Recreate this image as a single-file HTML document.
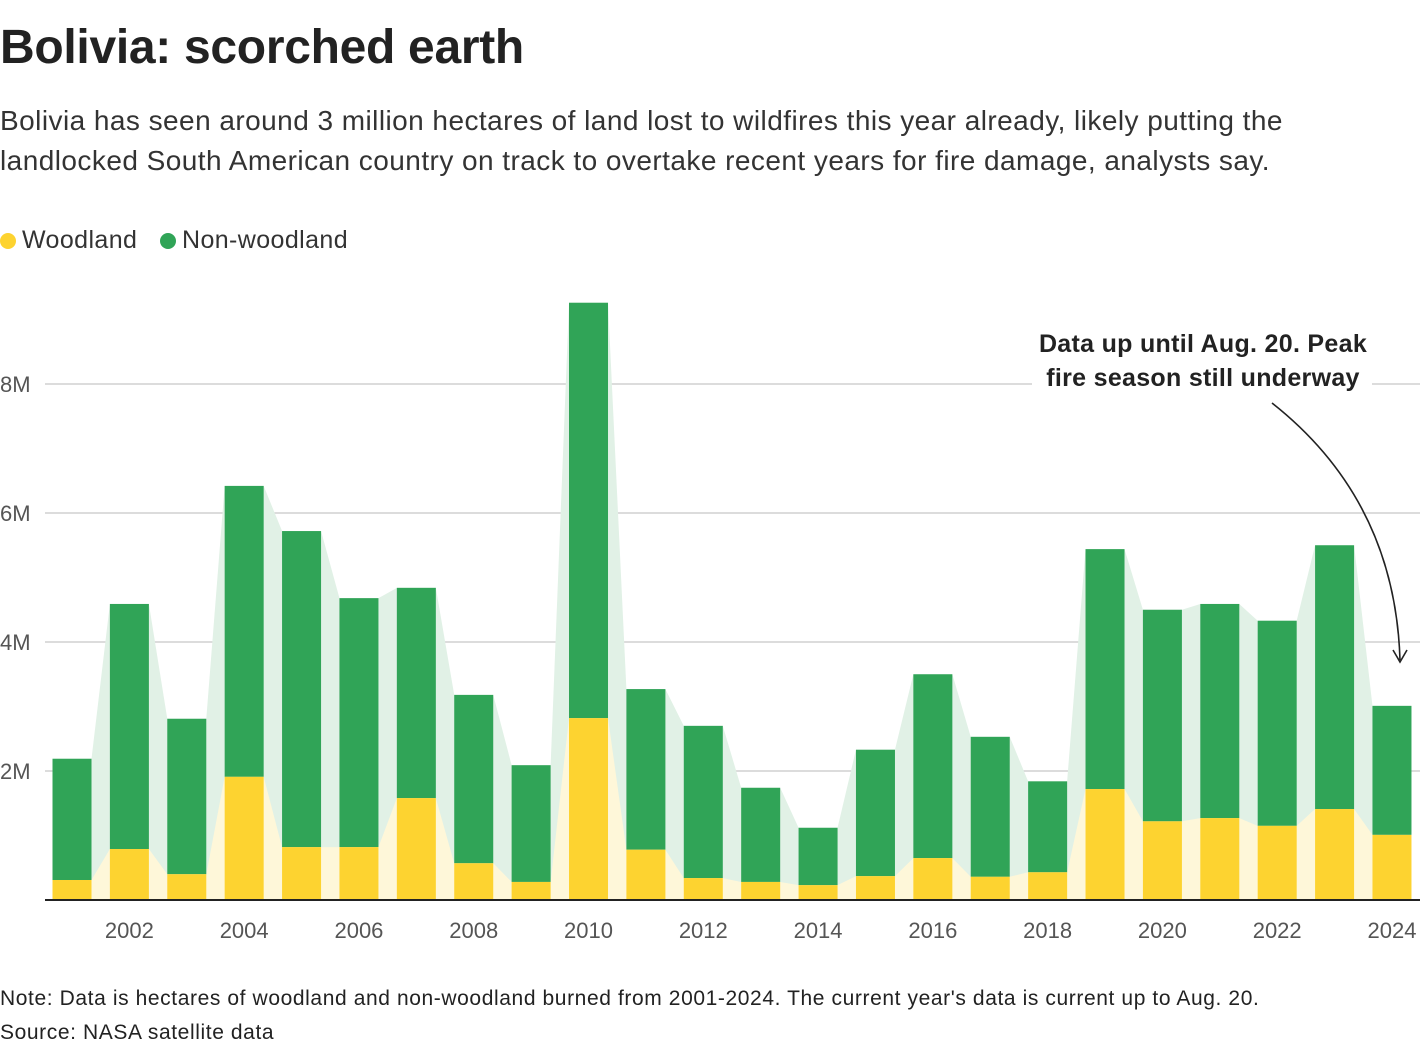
<!DOCTYPE html>
<html><head><meta charset="utf-8"><style>
body{margin:0;background:#fff;font-family:"Liberation Sans",sans-serif;color:#222;}
#wrap{position:relative;width:1420px;height:1056px;overflow:hidden;}
h1{position:absolute;left:0;top:20px;margin:0;font-size:48px;font-weight:bold;letter-spacing:-0.3px;}
.sub{position:absolute;left:0;top:101px;font-size:28px;line-height:40px;color:#333;letter-spacing:0.45px;width:1420px;white-space:nowrap;}
.leg{position:absolute;top:226px;font-size:25px;color:#333;letter-spacing:0.4px;}
.dot{display:inline-block;width:16px;height:16px;border-radius:50%;vertical-align:-1px;margin-right:6px;}
.note{position:absolute;left:0;font-size:21px;color:#222;letter-spacing:0.6px;}
svg{position:absolute;left:0;top:0;}
</style></head><body>
<div id="wrap">
<h1>Bolivia: scorched earth</h1>
<div class="sub">Bolivia has seen around 3 million hectares of land lost to wildfires this year already, likely putting the<br>landlocked South American country on track to overtake recent years for fire damage, analysts say.</div>
<div class="leg" style="left:0"><span class="dot" style="background:#fdd330"></span>Woodland</div>
<div class="leg" style="left:160px"><span class="dot" style="background:#30a457"></span>Non-woodland</div>
<svg id="chart" width="1420" height="1056"></svg>
<div class="note" style="top:987px">Note: Data is hectares of woodland and non-woodland burned from 2001-2024. The current year's data is current up to Aug. 20.</div>
<div class="note" style="top:1021px">Source: NASA satellite data</div>
</div>
<script>
const years=[2001,2002,2003,2004,2005,2006,2007,2008,2009,2010,2011,2012,2013,2014,2015,2016,2017,2018,2019,2020,2021,2022,2023,2024];
const woodland=[0.31,0.79,0.40,1.91,0.82,0.82,1.58,0.57,0.28,2.82,0.78,0.34,0.28,0.23,0.37,0.65,0.36,0.43,1.72,1.22,1.27,1.15,1.41,1.01];
const totals=[2.19,4.59,2.81,6.42,5.72,4.68,4.84,3.18,2.09,9.26,3.27,2.70,1.74,1.12,2.33,3.50,2.53,1.84,5.44,4.50,4.59,4.33,5.50,3.01];
const yTicks=[2,4,6,8];
const yTickLabels=["2M","4M","6M","8M"];
const NS="http://www.w3.org/2000/svg";
const svg=document.getElementById('chart');
const y=v=>900-v*64.5;
const x=i=>72+i*57.39;
const bw=39;
function mk(t,a,p){const e=document.createElementNS(NS,t);for(const k in a)e.setAttribute(k,a[k]);(p||svg).appendChild(e);return e;}
yTicks.forEach((t,i)=>{
 const l=mk('line',{x1:45,x2:1420,y1:y(t),y2:y(t),stroke:'#c8c8c8','stroke-width':1.3});
 
 
 const tx=mk('text',{x:0,y:y(t)+8,'font-size':22,fill:'#555'});
 tx.textContent=yTickLabels[i];
 
 
});
function area(vals,fill,name){
 let pts=[];vals.forEach((v,i)=>{pts.push((x(i)-bw/2)+','+y(v));pts.push((x(i)+bw/2)+','+y(v));});
 pts.push((x(vals.length-1)+bw/2)+',900');pts.push((x(0)-bw/2)+',900');
 const p=mk('polygon',{points:pts.join(' '),fill:fill});
 
 
}
area(totals,'#e1f1e6','area-total');
area(woodland,'#fef7d9','area-woodland');
years.forEach((yr,i)=>{
 const g=mk('rect',{x:x(i)-bw/2,y:y(totals[i]),width:bw,height:y(woodland[i])-y(totals[i]),fill:'#30a457'});
 
 
 const w=mk('rect',{x:x(i)-bw/2,y:y(woodland[i]),width:bw,height:900-y(woodland[i]),fill:'#fdd330'});
 
 
 if(yr%2===0){
  const t=mk('text',{x:x(i),y:938,'font-size':22,fill:'#555','text-anchor':'middle'});
  t.textContent=yr;
  
  
 }
});
const ax=mk('line',{x1:45,x2:1420,y1:900,y2:900,stroke:'#222','stroke-width':2});


const bg=mk('rect',{x:1032,y:325,width:340,height:70,fill:'#fff'});


['Data up until Aug. 20. Peak','fire season still underway'].forEach((s,i)=>{
 const t=mk('text',{x:1203,y:352+i*34,'font-size':25,'font-weight':'bold',fill:'#222','text-anchor':'middle','letter-spacing':0.3});
 t.textContent=s;
 
 
});
const ar=mk('path',{d:'M1272,403 Q1395,500 1400,660',fill:'none',stroke:'#222','stroke-width':1.6});


const ah=mk('path',{d:'M1393,650 L1400,662 L1407,650',fill:'none',stroke:'#222','stroke-width':1.6});


</script>
</body></html>
